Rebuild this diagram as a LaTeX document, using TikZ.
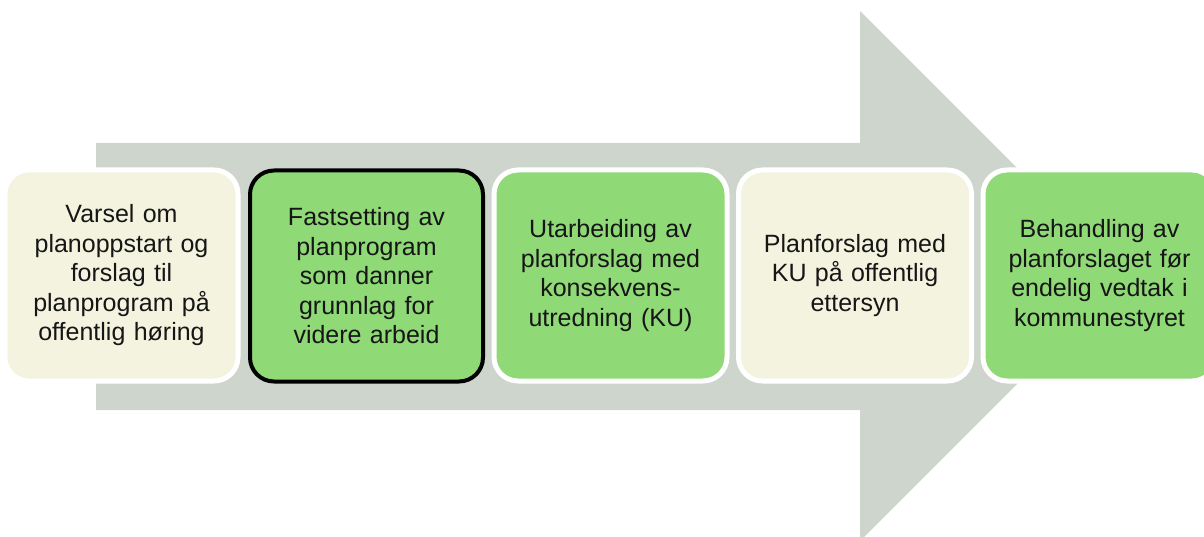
\documentclass[tikz,border=0pt]{standalone}
\usepackage{fontspec}
\setmainfont{Liberation Sans}
\definecolor{arrowgray}{HTML}{CED5CD}
\definecolor{cream}{HTML}{F3F3DF}
\definecolor{leaf}{HTML}{8FD977}
\definecolor{ink}{HTML}{161616}
\tikzset{
  stage/.style={rounded corners=24pt, minimum width=233pt, minimum height=211pt,
    draw=white, line width=5pt, text width=224pt, align=center, text=ink,
    font=\fontsize{25}{29.5}\selectfont},
  creambox/.style={stage, fill=cream},
  greenbox/.style={stage, fill=leaf},
  focusbox/.style={stage, fill=leaf, draw=black, line width=4pt}
}
\begin{document}
\begin{tikzpicture}[x=1pt,y=-1pt]
\useasboundingbox (0,0) rectangle (1204,537);
\clip (0,0) rectangle (1204,537);
\fill[arrowgray] (96,143) -- (860,143) -- (860,11) -- (1125,276) -- (860,541) -- (860,410) -- (96,410) -- cycle;
\node[creambox] (s1) at (121.5,275.5) {Varsel om\\planoppstart og\\forslag til\\planprogram på\\offentlig høring};
\node[focusbox] (s2) at (366.5,276) {Fastsetting av\\planprogram\\som danner\\grunnlag for\\videre arbeid};
\node[greenbox] (s3) at (610.5,275.5) {Utarbeiding av\\planforslag med\\konsekvens-\\utredning (KU)};
\node[creambox] (s4) at (855,275.5) {Planforslag med\\KU på offentlig\\ettersyn};
\node[greenbox] (s5) at (1099.5,275.5) {Behandling av\\planforslaget før\\endelig vedtak i\\kommunestyret};
\end{tikzpicture}
\end{document}
